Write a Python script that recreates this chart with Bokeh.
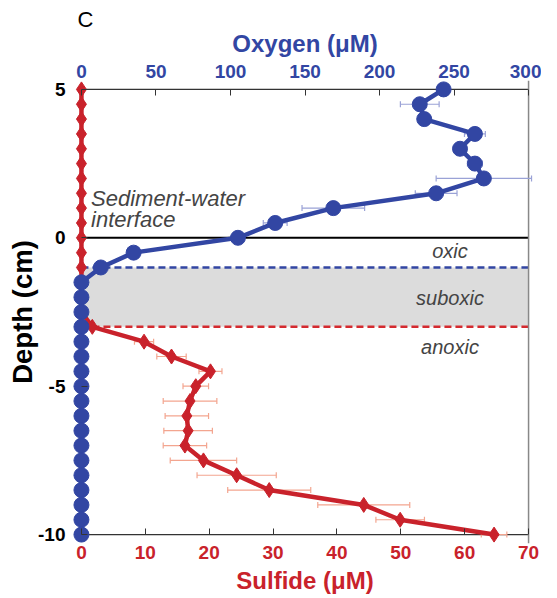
import numpy as np
from bokeh.plotting import figure
from bokeh.models import Range1d, LinearAxis, FixedTicker, Label, ColumnDataSource
from bokeh.embed import file_html
from bokeh.resources import INLINE

# ---------------- data ----------------
depth = [5, 4.5, 4, 3.5, 3, 2.5, 2, 1.5, 1, 0.5, 0, -0.5, -1, -1.5, -2, -2.5,
         -3, -3.5, -4, -4.5, -5, -5.5, -6, -6.5, -7, -7.5, -8, -8.5, -9, -9.5, -10]
oxygen = [243, 227, 230, 264, 254, 264, 270, 238, 169, 130, 105, 35, 13,
          0, 0, 0, 0, 0, 0, 0, 0, 0, 0, 0, 0, 0, 0, 0, 0, 0, 0]
oxygen_err = [0, 13, 0, 7, 0, 5, 32, 14, 21, 8, 0, 0, 0,
              0, 0, 0, 0, 0, 0, 0, 0, 0, 0, 0, 0, 0, 0, 0, 0, 0, 0]
sulfide = [0, 0, 0, 0, 0, 0, 0, 0, 0, 0, 0, 0, 0, 0, 0, 0,
           1.7, 9.8, 14.1, 20.2, 17.9, 17.0, 16.5, 16.7, 16.2, 19.1, 24.3, 29.4, 44.2, 49.9, 64.6]
sulfide_err = [0, 0, 0, 0, 0, 0, 0, 0, 0, 0, 0, 0, 0, 0, 0, 0,
               0, 1.5, 2.3, 1.8, 2.0, 4.2, 3.4, 3.8, 3.4, 5.2, 6.2, 6.5, 7.2, 3.8, 2.0]

oxygen_ticks = [0, 50, 100, 150, 200, 250, 300]
sulfide_ticks = [0, 10, 20, 30, 40, 50, 60, 70]
depth_ticks = [-10, -5, 0, 5]
depth_tick_labels = {-10: "-10", -5: "-5", 0: "0", 5: "5"}

SULFIDE_MIN, SULFIDE_MAX = 0, 70
OXYGEN_MIN, OXYGEN_MAX = 0, 300
DEPTH_TOP, DEPTH_BOTTOM = 5, -10
INTERFACE = 0
OXIC_LIMIT, ANOXIC_LIMIT = -1, -3

BLUE = "#3246a3"
RED = "#c9222b"
BLUE_ERR = "#9aa2d6"
RED_ERR = "#f3a58f"
FONT = "Liberation Sans"

# ---------------- figure ----------------
xpad = 1.4
ypad = 0.3
ratio = OXYGEN_MAX / SULFIDE_MAX
p = figure(frame_width=465, frame_height=463,
           min_border_left=72, min_border_right=4, min_border_top=80, min_border_bottom=40,
           x_range=Range1d(SULFIDE_MIN - xpad, SULFIDE_MAX + xpad),
           y_range=Range1d(DEPTH_BOTTOM - ypad, DEPTH_TOP + ypad),
           output_backend="svg", toolbar_location=None, tools="")
p.extra_x_ranges = {"oxy": Range1d((SULFIDE_MIN - xpad) * ratio, (SULFIDE_MAX + xpad) * ratio)}
p.outline_line_color = None
p.grid.visible = False
p.background_fill_color = "white"
p.border_fill_color = "white"

p.title.text = "C"
p.title.align = "left"
p.title.offset = 5
p.title.standoff = -10
p.title.text_font = FONT
p.title.text_font_size = "22px"
p.title.text_font_style = "normal"
p.title.text_color = "black"


def style_axis(ax, color, ticks):
    ax.ticker = FixedTicker(ticks=ticks, minor_ticks=[])
    ax.axis_line_color = None
    ax.major_tick_line_color = "#333333"
    ax.major_tick_line_width = 1
    ax.major_tick_out = -9
    ax.major_tick_in = 15
    ax.minor_tick_line_color = None
    ax.minor_tick_out = 0
    ax.minor_tick_in = 0
    ax.major_label_text_font = FONT
    ax.major_label_text_font_style = "bold"
    ax.major_label_text_font_size = "19px"
    ax.major_label_text_color = color
    ax.axis_label_text_font = FONT
    ax.axis_label_text_font_style = "bold"
    ax.axis_label_text_color = color


bottom = p.xaxis[0]
style_axis(bottom, RED, sulfide_ticks)
bottom.axis_label = "Sulfide (\u03bcM)"
bottom.axis_label_text_font_size = "24px"
bottom.major_label_standoff = 2
bottom.axis_label_standoff = 5

left = p.yaxis[0]
style_axis(left, "black", depth_ticks)
left.major_label_overrides = depth_tick_labels
left.axis_label = "Depth (cm)"
left.axis_label_text_font_size = "27.5px"
left.major_label_standoff = 7
left.axis_label_standoff = -3

top = LinearAxis(x_range_name="oxy")
style_axis(top, BLUE, oxygen_ticks)
top.axis_label = "Oxygen (\u03bcM)"
top.axis_label_text_font_size = "24px"
top.major_label_standoff = 3
top.axis_label_standoff = 5
p.add_layout(top, "above")

# ---------------- zones and frame lines ----------------
p.quad(left=[SULFIDE_MIN], right=[SULFIDE_MAX], top=[OXIC_LIMIT], bottom=[ANOXIC_LIMIT],
       fill_color="#dcdcdc", line_color=None)
p.segment(x0=[SULFIDE_MIN], x1=[SULFIDE_MAX], y0=[OXIC_LIMIT], y1=[OXIC_LIMIT],
          line_color=BLUE, line_width=2.5, line_dash="7 4")
p.segment(x0=[SULFIDE_MIN], x1=[SULFIDE_MAX], y0=[ANOXIC_LIMIT], y1=[ANOXIC_LIMIT],
          line_color="#d42a2f", line_width=2.5, line_dash="7 4")
p.segment(x0=[SULFIDE_MIN, SULFIDE_MIN], x1=[SULFIDE_MAX, SULFIDE_MAX],
          y0=[DEPTH_TOP, DEPTH_BOTTOM], y1=[DEPTH_TOP, DEPTH_BOTTOM],
          line_color="#333333", line_width=1.3)
p.segment(x0=[SULFIDE_MIN], x1=[SULFIDE_MAX], y0=[INTERFACE], y1=[INTERFACE],
          line_color="black", line_width=2)
p.segment(x0=[SULFIDE_MAX], x1=[SULFIDE_MAX], y0=[DEPTH_BOTTOM - ypad], y1=[DEPTH_TOP + ypad],
          line_color="#888888", line_width=1.5)
p.segment(x0=[SULFIDE_MIN], x1=[SULFIDE_MIN], y0=[DEPTH_BOTTOM], y1=[DEPTH_TOP],
          line_color="black", line_width=1, line_dash="2 2")

# ---------------- error bars ----------------
d = np.array(depth, dtype=float)
ox = np.array(oxygen, dtype=float)
oe = np.array(oxygen_err, dtype=float)
su = np.array(sulfide, dtype=float)
se = np.array(sulfide_err, dtype=float)

mo = oe > 0
p.segment(x0=ox[mo] - oe[mo], x1=ox[mo] + oe[mo], y0=d[mo], y1=d[mo],
          line_color=BLUE_ERR, line_width=1.2, x_range_name="oxy")
p.scatter(x=np.concatenate([ox[mo] - oe[mo], ox[mo] + oe[mo]]), y=np.concatenate([d[mo], d[mo]]),
          marker="dash", angle=np.pi / 2, size=6, line_color=BLUE_ERR, line_width=1.2,
          x_range_name="oxy")

ms = se > 0
p.segment(x0=su[ms] - se[ms], x1=su[ms] + se[ms], y0=d[ms], y1=d[ms],
          line_color=RED_ERR, line_width=1.2)
p.scatter(x=np.concatenate([su[ms] - se[ms], su[ms] + se[ms]]), y=np.concatenate([d[ms], d[ms]]),
          marker="dash", angle=np.pi / 2, size=6, line_color=RED_ERR, line_width=1.2)

# ---------------- profiles ----------------
src = ColumnDataSource(dict(depth=depth, oxygen=oxygen, sulfide=sulfide))
p.line(x="sulfide", y="depth", source=src, line_color=RED, line_width=4.5)
p.scatter(x="sulfide", y="depth", source=src, marker="diamond", size=15,
          fill_color=RED, line_color=RED)
p.line(x="oxygen", y="depth", source=src, line_color=BLUE, line_width=4.5, x_range_name="oxy")
p.scatter(x="oxygen", y="depth", source=src, marker="circle", size=15,
          fill_color=BLUE, line_color=BLUE, x_range_name="oxy")

# ---------------- labels ----------------
p.add_layout(Label(x=1.5, y=1.32, text="Sediment-water", text_font=FONT,
                   text_font_size="22px", text_font_style="italic", text_baseline="alphabetic"))
p.add_layout(Label(x=1.5, y=0.63, text="interface", text_font=FONT,
                   text_font_size="22px", text_font_style="italic", text_baseline="alphabetic"))
for txt, yy in [("oxic", -0.45), ("suboxic", -2.04), ("anoxic", -3.68)]:
    p.add_layout(Label(x=57.7, y=yy, text=txt, text_font=FONT, text_font_size="20px",
                       text_font_style="italic", text_align="center", text_baseline="middle"))

open("out.html", "w").write(file_html(p, INLINE))
